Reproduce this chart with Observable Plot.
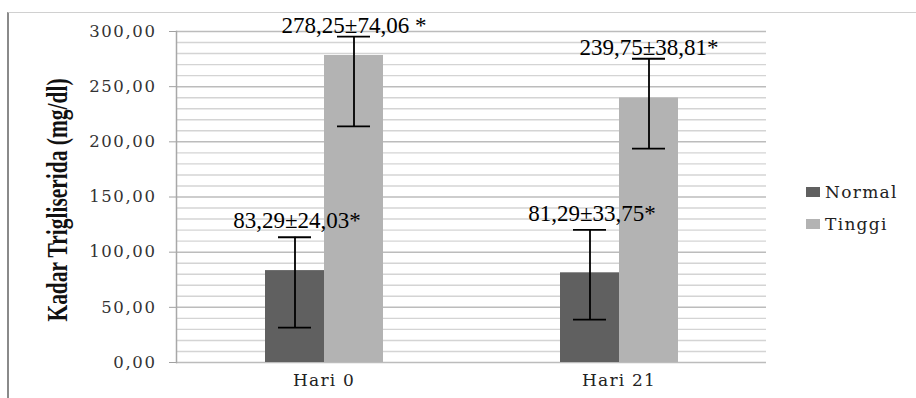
<!DOCTYPE html>
<html>
<head>
<meta charset="utf-8">
<script src="https://cdn.jsdelivr.net/npm/d3@7"></script>
<script src="https://cdn.jsdelivr.net/npm/@observablehq/plot@0.6"></script>
<style>
  html, body { margin: 0; padding: 0; background: #fff; }
  #wrap { position: relative; width: 916px; height: 398px; overflow: hidden; }
  #frame { position: absolute; left: 7px; top: 12px; width: 909px; height: 386px; box-sizing: border-box;
           border-left: 2px solid #8a8a8a; border-top: 1px solid #d0d0d0; pointer-events: none; }
  #legend { position: absolute; left: 806px; top: 176px; font-family: "DejaVu Serif", serif; font-size: 17px;
            color: #222; letter-spacing: 1.3px; }
  #legend .row { display: flex; align-items: center; height: 32px; }
  #legend .sw { width: 14px; height: 10px; margin-right: 5px; }
</style>
</head>
<body>
<div id="wrap"><div id="frame"></div></div>
<script>
const days = ["Hari 0", "Hari 21"];
const series = ["Normal", "Tinggi"];
const normalMean = [83.29, 81.29];
const tinggiMean = [278.25, 239.75];
const normalLow = [31.6, 38.9];
const normalHigh = [113.5, 120.2];
const tinggiLow = [214.0, 193.8];
const tinggiHigh = [295.3, 275.3];
const normalLabels = ["83,29±24,03*", "81,29±33,75*"];
const tinggiLabels = ["278,25±74,06 *", "239,75±38,81*"];
const yTicks = [0, 50, 100, 150, 200, 250, 300];
const yMinor = [10, 20, 30, 40, 60, 70, 80, 90, 110, 120, 130, 140, 160, 170, 180, 190, 210, 220, 230, 240, 260, 270, 280, 290];
const colors = ["#606060", "#b3b3b3"];

const rows = days.flatMap((day, i) => [
  {day, series: "Normal", value: normalMean[i], low: normalLow[i], high: normalHigh[i], label: normalLabels[i]},
  {day, series: "Tinggi", value: tinggiMean[i], low: tinggiLow[i], high: tinggiHigh[i], label: tinggiLabels[i]}
]);
const normalRows = rows.filter(d => d.series === "Normal");
const tinggiRows = rows.filter(d => d.series === "Tinggi");

const fmt = d => d.toFixed(2).replace(".", ",");
const labelStyle = {fontFamily: "Liberation Serif", fontSize: 23, fill: "#000", lineAnchor: "bottom"};

const chart = Plot.plot({
  width: 916,
  height: 398,
  marginLeft: 175,
  marginRight: 150,
  marginTop: 31,
  marginBottom: 36,
  style: {background: "transparent", overflow: "visible"},
  fx: {domain: days, padding: 0, label: null},
  x: {domain: series, paddingInner: 0, paddingOuter: 1.5, axis: null},
  y: {domain: [0, 300], axis: null},
  color: {domain: series, range: colors},
  marks: [
    Plot.ruleY(yMinor, {stroke: "#d4d4d4", strokeWidth: 1.4}),
    Plot.ruleY(yTicks, {stroke: "#bcbcbc", strokeWidth: 1.5}),
    Plot.barY(rows, {fx: "day", x: "series", y: "value", fill: "series"}),
    Plot.ruleX(rows, {fx: "day", x: "series", y1: "low", y2: "high", stroke: "#000", strokeWidth: 1.8}),
    Plot.tickY(rows, {fx: "day", x: "series", y: "low", insetLeft: 13, insetRight: 13, stroke: "#000", strokeWidth: 1.8}),
    Plot.tickY(rows, {fx: "day", x: "series", y: "high", insetLeft: 13, insetRight: 13, stroke: "#000", strokeWidth: 1.8}),
    Plot.text(normalRows, {fx: "day", x: "series", y: "high", text: "label", dy: -9, dx: 2, ...labelStyle}),
    Plot.text(tinggiRows, {fx: "day", x: "series", y: "high", text: "label", dy: -4, ...labelStyle}),
    Plot.axisY({ticks: yTicks, tickFormat: fmt, tickSize: 7, tickPadding: 13, stroke: "#a0a0a0",
      fill: "#333", fontSize: 16.5, fontFamily: "DejaVu Serif"}),
    Plot.axisFx({anchor: "bottom", tickSize: 0, tickPadding: 11, fontSize: 17, fontFamily: "DejaVu Serif",
      fill: "#222", label: null}),
    Plot.frame({anchor: "left", facetAnchor: "left", stroke: "#a8a8a8", strokeWidth: 1.5})
  ]
});

const svg = d3.select(chart);
svg.selectAll('[aria-label="y-axis tick label"] text').attr("letter-spacing", "1.6");
svg.selectAll('[aria-label="fx-axis tick label"] text').attr("letter-spacing", "1.2");
svg.append("text")
  .attr("transform", "translate(67,200) rotate(-90) scale(0.74,1)")
  .attr("text-anchor", "middle")
  .attr("font-family", "Liberation Serif")
  .attr("font-weight", "bold")
  .attr("font-size", 29)
  .attr("fill", "#111")
  .text("Kadar Trigliserida (mg/dl)");

const wrap = document.getElementById("wrap");
wrap.insertBefore(chart, wrap.firstChild);
chart.style.position = "absolute";
chart.style.left = "0";
chart.style.top = "0";

const color = chart.scale("color");
const legend = document.createElement("div");
legend.id = "legend";
color.domain.forEach(d => {
  const row = document.createElement("div");
  row.className = "row";
  const sw = document.createElement("div");
  sw.className = "sw";
  sw.style.background = color.apply(d);
  const lab = document.createElement("span");
  lab.textContent = d;
  row.appendChild(sw);
  row.appendChild(lab);
  legend.appendChild(row);
});
wrap.appendChild(legend);
</script>
</body>
</html>
